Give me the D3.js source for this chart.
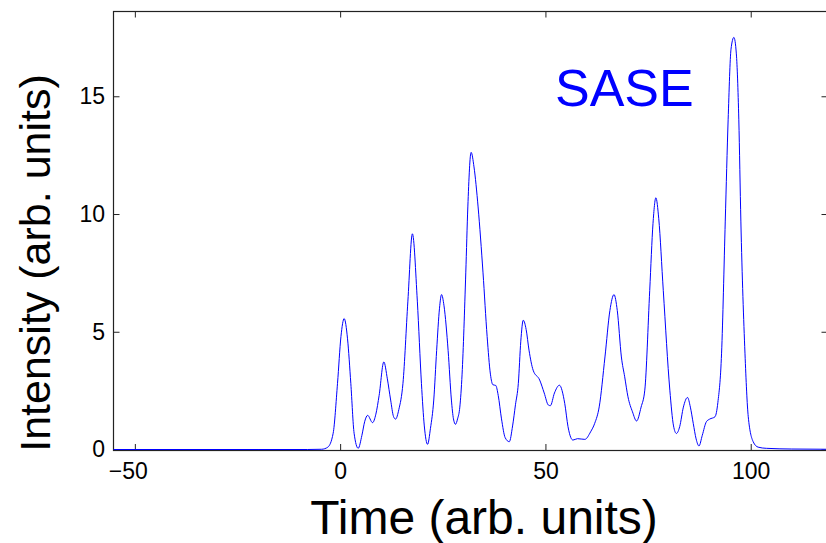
<!DOCTYPE html>
<html>
<head>
<meta charset="utf-8">
<script src="https://cdn.jsdelivr.net/npm/d3@7"></script>
<style>
  html, body { margin: 0; padding: 0; background: #fff; }
  svg { display: block; }
  text { font-family: "Liberation Sans", Arial, Helvetica, sans-serif; }
</style>
</head>
<body>
<svg id="chart" width="826" height="543"></svg>
<script>
// ---- Data ----
const times = [
  -55.2, -20, -8, -4.5, -3, -1.7, -0.64, 0.2, 0.98, 1.8,
  2.6, 3.4, 4.4, 5.3, 6.0, 6.7, 7.9, 8.7, 9.5, 10.64,
  11.5, 12.3, 13.0, 13.5, 14.3, 15.3, 16.5, 17.6, 18.8, 19.8,
  20.5, 21.3, 22.0, 22.8, 23.5, 24.2, 24.7, 25.3, 26.3, 27.1,
  27.6, 28.1, 28.6, 29.15, 29.7, 30.6, 31.1, 31.9, 32.6, 33.6,
  34.8, 35.8, 36.6, 37.2, 37.9, 38.5, 39.3, 40.2, 41.2, 42.0,
  42.7, 43.4, 44.0, 44.6, 45.3, 46.0, 47.0, 48.6, 49.7, 50.7,
  51.2, 52.2, 53.4, 54.7, 55.5, 56.2, 56.7, 57.8, 59.6, 61.0,
  62.0, 63.1, 64.5, 65.7, 66.7, 67.5, 68.5, 69.3, 70.1, 71.2,
  72.2, 73.3, 74.2, 75.4, 76.2, 76.9, 77.6, 78.7, 80.3, 81.2,
  81.9, 82.7, 83.6, 84.6, 85.3, 86.0, 86.7, 87.4, 88.2, 89.2,
  90.0, 91.3, 92.0, 92.9, 93.8, 94.5, 95.2, 95.9, 96.5, 97.1,
  97.6, 98.6, 99.4, 100.6, 101.8, 103.8, 110, 118.7
];
const intensity = [
  0, 0, 0, 0.01, 0.1, 0.69, 2.81, 4.8, 5.56, 4.7,
  2.81, 0.69, 0.05, 0.6, 1.2, 1.45, 1.14, 1.5, 2.3, 3.72,
  3.0, 2.1, 1.4, 1.29, 1.7, 2.81, 6.3, 9.16, 6.3, 2.81,
  1.0, 0.22, 0.9, 2.1, 4.2, 6.0, 6.58, 6.1, 4.2, 2.1,
  1.3, 1.07, 1.3, 1.8, 3.2, 7.5, 10.3, 12.62, 12.0, 10.3,
  7.5, 4.8, 3.2, 2.75, 2.72, 2.3, 1.3, 0.5, 0.33, 1.0,
  1.9, 2.81, 4.6, 5.49, 5.1, 4.22, 3.37, 2.95, 2.4, 1.89,
  1.86, 2.4, 2.73, 1.96, 0.97, 0.5, 0.40, 0.46, 0.43, 0.75,
  1.11, 1.81, 3.93, 5.9, 6.58, 5.9, 3.93, 3.09, 2.24, 1.6,
  1.21, 1.8, 2.52, 6.76, 9.6, 10.69, 9.8, 6.76, 2.52, 1.0,
  0.68, 0.97, 1.8, 2.21, 1.8, 1.11, 0.45, 0.15, 0.6, 1.18,
  1.29, 1.39, 2.0, 4.09, 9.7, 14.0, 17.0, 17.5, 16.8, 14.0,
  9.7, 4.09, 1.39, 0.33, 0.1, 0.05, 0.02, 0.01
];
const xTicks = [-50, 0, 50, 100];
const yTicks = [0, 5, 10, 15];
const xDomain = [-55.2, 118.7];
const yDomain = [0, 18.6];
const xLabel = "Time (arb. units)";
const yLabel = "Intensity (arb. units)";
const annotation = "SASE";

// ---- Layout ----
const mLeft = 113.5, mRight = 827.5, mTop = 11.5, mBottom = 449.5;
const svg = d3.select("#chart");

const x = d3.scaleLinear().domain(xDomain).range([mLeft, mRight]);
const y = d3.scaleLinear().domain(yDomain).range([mBottom, mTop]);

const axisColor = "#222";
const tickFont = 23;

function styleAxis(g, showText) {
  g.select(".domain").remove();
  g.selectAll(".tick line").attr("stroke", axisColor).attr("stroke-width", 1);
  g.selectAll(".tick text")
    .attr("fill", "#000")
    .style("font-size", tickFont + "px")
    .style("font-family", '"Liberation Sans", Arial, sans-serif');
  if (!showText) g.selectAll(".tick text").remove();
}

svg.append("g").attr("transform", `translate(0,${mBottom + 0.5})`)
  .call(d3.axisBottom(x).tickValues(xTicks).tickSize(-6).tickPadding(13).tickFormat(d3.format("d")))
  .call(g => styleAxis(g, true))
  .call(g => g.selectAll(".tick text").attr("dx", d => d < 0 ? -7 : 0));
svg.append("g").attr("transform", `translate(0,${mTop})`)
  .call(d3.axisTop(x).tickValues(xTicks).tickSize(-6))
  .call(g => styleAxis(g, false));
svg.append("g").attr("transform", `translate(${mLeft},0)`)
  .call(d3.axisLeft(y).tickValues(yTicks).tickSize(-6).tickPadding(8.5).tickFormat(d3.format("d")))
  .call(g => styleAxis(g, true));
svg.append("g").attr("transform", `translate(${mRight},0)`)
  .call(d3.axisRight(y).tickValues(yTicks).tickSize(-6))
  .call(g => styleAxis(g, false));

// box
svg.append("rect")
  .attr("x", mLeft).attr("y", mTop)
  .attr("width", mRight - mLeft).attr("height", mBottom + 1 - mTop)
  .attr("fill", "none").attr("stroke", axisColor).attr("stroke-width", 1.2);

// data line
const pts = times.map((t, i) => [t, intensity[i]]);
const line = d3.line()
  .x(d => x(d[0]))
  .y(d => y(d[1]))
  .curve(d3.curveMonotoneX);

svg.append("path")
  .datum(pts)
  .attr("d", line)
  .attr("fill", "none")
  .attr("stroke", "#0000ff")
  .attr("stroke-width", 1);

// annotation
svg.append("text")
  .attr("x", 555).attr("y", 106)
  .attr("fill", "#0000ff")
  .style("font-size", "52px")
  .text(annotation);

// axis labels
svg.append("text")
  .attr("x", 484).attr("y", 534)
  .attr("text-anchor", "middle")
  .attr("fill", "#000")
  .style("font-size", "48px")
  .text(xLabel);

svg.append("text")
  .attr("transform", `translate(50,263) rotate(-90)`)
  .attr("text-anchor", "middle")
  .attr("fill", "#000")
  .style("font-size", "43px")
  .text(yLabel);
</script>
</body>
</html>
